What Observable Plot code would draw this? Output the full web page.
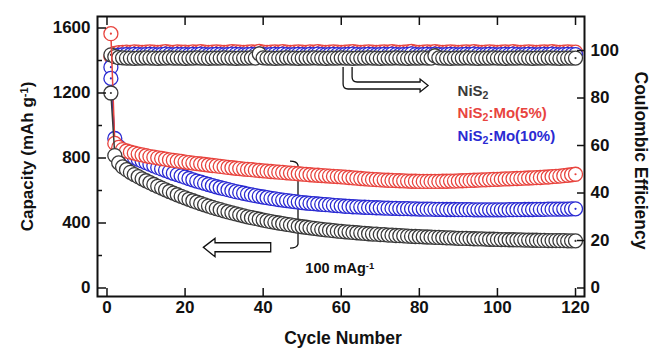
<!DOCTYPE html>
<html><head><meta charset="utf-8">
<script src="https://cdn.jsdelivr.net/npm/d3@7"></script>
<script src="https://cdn.jsdelivr.net/npm/@observablehq/plot@0.6"></script>
<style>body{margin:0;background:#fff} #chart svg{display:block}</style>
</head><body><div id="chart"></div><script>
// ---- data ----
const cycles = Array.from({length: 120}, (_, i) => i + 1);

const capNiS2 = [
1200,815,770,745,728,712,698,685,672,660,
648,637,626,615,604,594,584,574,564,555,
546,537,528,520,512,504,496,489,482,475,
468,462,456,450,444,438,433,428,423,418,
413,408,404,400,396,392,388,384,380,377,
374,370,367,364,361,358,356,353,350,348,
346,344,342,340,338,336,334,332,331,329,
328,326,325,323,322,321,319,318,317,316,
315,314,313,312,311,310,309,308,307,306,
305,305,304,303,302,302,301,300,300,299,
298,298,297,297,296,296,295,295,294,294,
293,293,292,292,292,291,291,290,290,290];

const capMo5 = [
1565,890,865,852,843,836,830,824,819,814,
809,805,801,797,793,789,786,782,779,775,
772,769,766,763,760,757,754,751,748,745,
742,740,737,735,732,730,728,725,723,721,
719,717,715,713,711,709,707,705,703,701,
699,697,695,694,692,690,689,687,686,684,
682,680,678,676,674,672,670,668,667,665,
664,663,662,661,660,659,658,657,657,656,
656,656,656,656,656,657,657,658,658,659,
660,661,662,663,664,665,666,667,668,669,
670,671,672,673,674,675,676,677,678,679,
680,682,683,685,687,689,691,694,697,700];

const capMo10 = [
1290,920,870,845,828,815,803,792,782,772,
762,752,742,733,724,715,706,698,690,682,
674,666,658,651,644,637,630,623,617,611,
605,599,593,588,583,578,573,568,564,560,
556,552,548,544,541,538,535,532,529,526,
523,521,519,517,515,513,511,509,507,505,
503,502,500,499,498,497,496,495,494,493,
492,491,490,490,489,488,488,487,487,486,
486,485,485,484,484,484,483,483,483,482,
482,482,482,481,481,481,481,481,481,481,
481,481,482,482,482,482,483,483,483,484,
484,484,485,485,485,486,486,486,487,487];

const ceNiS2 = [
98.2,97.4,97.0,96.9,96.8,96.8,96.7,96.8,96.8,96.9,
96.8,96.8,96.7,96.8,96.8,96.9,96.8,96.8,96.8,96.7,
96.8,96.8,96.9,96.8,96.8,96.7,96.8,96.8,96.8,96.9,
96.8,96.8,96.7,96.8,96.8,96.8,96.9,96.8,98.6,96.9,
96.8,96.8,96.7,96.8,96.8,96.9,96.8,96.8,96.7,96.8,
96.8,96.8,96.9,96.8,96.8,96.7,96.8,96.8,96.8,96.9,
96.8,96.8,96.7,96.8,96.8,96.8,96.9,96.8,96.8,96.7,
96.8,96.8,96.8,96.9,96.8,96.8,96.7,96.8,96.8,96.8,
96.9,96.8,96.8,97.8,96.9,96.8,96.8,96.7,96.8,96.8,
96.8,96.9,96.8,96.8,96.7,96.8,96.8,96.8,96.9,96.8,
96.8,96.7,96.8,96.8,96.8,96.9,96.8,96.8,96.7,96.8,
96.8,96.8,96.9,96.8,96.8,96.7,96.8,96.8,96.8,96.8];

const ceMo5 = [
97.5,98.8,99.1,99.2,99.3,99.2,99.4,99.3,99.2,99.3,
99.4,99.3,99.2,99.3,99.5,99.3,99.2,99.4,99.3,99.3,
99.2,99.4,99.3,99.5,99.3,99.2,99.3,99.4,99.3,99.2,
99.3,99.5,99.4,99.3,99.2,99.3,99.4,99.3,99.6,99.3,
99.2,99.3,99.4,99.3,99.5,99.3,99.2,99.3,99.4,99.3,
99.2,99.4,99.3,99.5,99.3,99.2,99.3,99.4,99.3,99.2,
99.3,99.4,99.5,99.3,99.2,99.3,99.4,99.3,99.2,99.3,
99.4,99.3,99.5,99.3,99.2,99.3,99.4,99.6,99.3,99.2,
99.3,99.4,99.3,99.5,99.3,99.2,99.3,99.4,99.3,99.2,
99.3,99.4,99.3,99.5,99.3,99.2,99.3,99.4,99.3,99.2,
99.3,99.4,99.3,99.5,99.3,99.2,99.3,99.4,99.3,99.2,
99.3,99.4,99.3,99.5,99.3,99.2,99.3,99.4,99.3,99.3];

const ceMo10 = [
93.0,97.6,98.0,98.2,98.3,98.2,98.4,98.3,98.2,98.3,
98.4,98.3,98.2,98.3,98.5,98.3,98.2,98.4,98.3,98.3,
98.2,98.4,98.3,98.5,98.3,98.2,98.3,98.4,98.3,98.2,
98.3,98.5,98.4,98.3,98.2,98.3,98.4,98.3,98.5,98.3,
98.2,98.3,98.4,98.3,98.5,98.3,98.2,98.3,98.4,98.3,
98.2,98.4,98.3,98.5,98.3,98.2,98.3,98.4,98.3,98.2,
98.3,98.4,98.5,98.3,98.2,98.3,98.4,98.3,98.2,98.3,
98.4,98.3,98.5,98.3,98.2,98.3,98.4,98.6,98.3,98.2,
98.3,98.4,98.3,98.5,98.3,98.2,98.3,98.4,98.3,98.2,
98.3,98.4,98.3,98.5,98.3,98.2,98.3,98.4,98.3,98.2,
98.3,98.4,98.3,98.5,98.3,98.2,98.3,98.4,98.3,98.2,
98.3,98.4,98.3,98.5,98.3,98.2,98.3,98.4,98.3,98.3];

const seriesNames = ["NiS₂", "NiS₂:Mo(5%)", "NiS₂:Mo(10%)"];
const seriesColors = ["#3a3a3a", "#e8443e", "#2a2ad2"];
const capTicks = [0, 400, 800, 1200, 1600];
const capMinorTicks = [200, 600, 1000, 1400];
const ceTicks = [0, 20, 40, 60, 80, 100];
const cycleTicks = [0, 20, 40, 60, 80, 100, 120];
const xTitle = "Cycle Number";
const yTitle = "Capacity (mAh g⁻¹)";
const y2Title = "Coulombic Efficiency";
const rateLabel = "100 mAg⁻¹";

// CE (%) plotted on the capacity scale: right axis 0..100 spans the same pixels as capacity 0..1461.5
const CE_TO_CAP = 14.615;

// annotation anchors, in data units (cycle, capacity)
const rightArrowAt = [60.6, 1357];
const leftArrowAt = [24.8, 247];
const bracketAt = [49.05, 772];

// ---- build ----
const rows = (vals, isCE) => cycles.map((c, i) => ({cycle: c, v: isCE ? vals[i] * CE_TO_CAP : vals[i]}));
const series = [
  {cap: rows(capNiS2), ce: rows(ceNiS2, true), color: seriesColors[0]},
  {cap: rows(capMo5), ce: rows(ceMo5, true), color: seriesColors[1]},
  {cap: rows(capMo10), ce: rows(ceMo10, true), color: seriesColors[2]}
];

function seriesMarks(data, color) {
  const ends = [data[0], data[data.length - 1]];
  return [
    Plot.line(data, {x: "cycle", y: "v", stroke: color, strokeWidth: 1.5}),
    Plot.dot(data, {x: "cycle", y: "v", r: 7, stroke: color, strokeWidth: 1.3, fill: "white"}),
    Plot.dot(ends, {x: "cycle", y: "v", r: 1.1, fill: color})
  ];
}

function annotations(index, scales) {
  const g = d3.create("svg:g").attr("fill", "white").attr("stroke", "#111").attr("stroke-width", 1.3);
  const [ax, ay] = [scales.x(rightArrowAt[0]), scales.y(rightArrowAt[1])];
  g.append("path").attr("transform", `translate(${ax},${ay})`)
    .attr("d", "M0,0V17Q0,22 5,22H77V25L85,18.5L77,12V15H14Q9,15 9,10V0");
  const [lx, ly] = [scales.x(leftArrowAt[0]), scales.y(leftArrowAt[1])];
  g.append("path").attr("transform", `translate(${lx},${ly})`)
    .attr("d", "M0,0L11.7,-9V-4.6H67.4V4.4H11.7V9.4Z");
  const [bx, by] = [scales.x(bracketAt[0]), scales.y(bracketAt[1])];
  g.append("path").attr("transform", `translate(${bx},${by})`).attr("fill", "none")
    .attr("d", "M-8,-1Q-1,-1 0,3V82Q-1,86 -8,86M0,41H-6");
  return g.node();
}

const marks = [Plot.frame({stroke: "#111", strokeWidth: 2})];
marks.push(annotations);
// CE first (red, blue, black), then capacity (blue, red, black)
for (const i of [1, 2, 0]) marks.push(...seriesMarks(series[i].ce, series[i].color));
for (const i of [2, 1, 0]) marks.push(...seriesMarks(series[i].cap, series[i].color));

// axes
marks.push(
  Plot.axisX({ticks: cycleTicks, tickSize: -8, tickPadding: 12, strokeWidth: 1.5, tickFormat: d => String(d), label: null}),
  Plot.axisX({anchor: "top", ticks: cycleTicks, tickSize: -8, strokeWidth: 1.5, tickFormat: () => "", label: null}),
  Plot.axisY({ticks: capTicks, tickSize: -9, tickPadding: 16, strokeWidth: 1.5, tickFormat: d => String(d), label: null}),
  Plot.axisY({ticks: capMinorTicks, tickSize: -5, strokeWidth: 1.5, tickFormat: () => "", label: null}),
  Plot.axisY({anchor: "right", ticks: ceTicks.map(v => v * CE_TO_CAP), tickSize: -8, tickPadding: 14, strokeWidth: 1.5,
    tickFormat: d => String(Math.round(d / CE_TO_CAP)), label: null})
);

// titles
marks.push(
  Plot.text([xTitle], {text: d => d, frameAnchor: "bottom", lineAnchor: "middle", textAnchor: "middle", dy: 42, dx: 2, fontSize: 17.5}),
  Plot.text([yTitle], {text: d => d, frameAnchor: "left", lineAnchor: "middle", textAnchor: "middle", dx: -70, rotate: -90, fontSize: 17}),
  Plot.text([y2Title], {text: d => d, frameAnchor: "right", lineAnchor: "middle", textAnchor: "middle", dx: 56, dy: 4, rotate: 90, fontSize: 17.5}),
  Plot.text([rateLabel], {text: d => d, x: () => 50.8, y: () => 120, textAnchor: "start", fontSize: 14.5})
);
// legend
const legendY = [1212, 1078, 935];
seriesNames.forEach((name, i) => {
  marks.push(Plot.text([name], {text: d => d, x: () => 89.8, y: () => legendY[i], textAnchor: "start", fill: seriesColors[i], fontSize: 15}));
});

const chart = Plot.plot({
  width: 651, height: 349,
  marginLeft: 97, marginRight: 67, marginTop: 16, marginBottom: 53,
  x: {domain: [-2.43, 122.3]},
  y: {domain: [-52.3, 1670.8]},
  style: {fontFamily: "'Liberation Sans', Arial, sans-serif", fontWeight: "bold", fontSize: "17px", color: "#111", background: "white"},
  marks: marks.flat()
});

// sub/superscripts
d3.select(chart).selectAll("text").each(function () {
  const s = this.textContent;
  if (!/[₂⁻¹]/.test(s)) return;
  const parts = s.split(/(₂|⁻¹)/).filter(p => p);
  while (this.firstChild) this.removeChild(this.firstChild);
  const t = d3.select(this);
  for (const p of parts) {
    if (p === "₂") t.append("tspan").attr("baseline-shift", "-25%").attr("font-size", "0.7em").text("2");
    else if (p === "⁻¹") t.append("tspan").attr("baseline-shift", "45%").attr("font-size", "0.65em").text("-1");
    else t.append("tspan").text(p);
  }
});
document.getElementById("chart").append(chart);
</script></body></html>
